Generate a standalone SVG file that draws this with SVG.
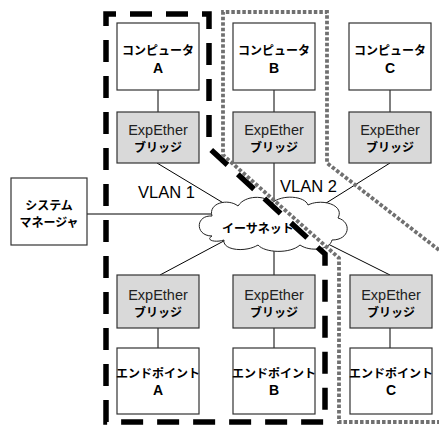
<svg xmlns="http://www.w3.org/2000/svg" width="439" height="426" viewBox="0 0 439 426">
<style>
.box{fill:#fff;stroke:#333;stroke-width:1.2}
.br{fill:#d9d9d9;stroke:#333;stroke-width:1.2}
.jp{font-family:"Liberation Sans","Noto Sans CJK JP",sans-serif;font-weight:bold;font-size:12px;fill:#000;text-anchor:middle}
.lr{font-family:"Liberation Sans",sans-serif;font-weight:bold;font-size:14px;fill:#000;text-anchor:middle}
.lt{font-family:"Liberation Sans","Noto Sans CJK JP",sans-serif;font-size:14.5px;fill:#222;text-anchor:middle}
.vl{font-family:"Liberation Sans",sans-serif;font-size:16.5px;fill:#000}
.ln{stroke:#000;stroke-width:1;fill:none}
</style>
<rect width="439" height="426" fill="#fff"/>
<g id="connectors">
<line class="ln" x1="158" y1="90" x2="158" y2="112"/>
<line class="ln" x1="274" y1="90" x2="274" y2="112"/>
<line class="ln" x1="390" y1="90" x2="390" y2="112"/>
<line class="ln" x1="157" y1="163" x2="235" y2="210"/>
<line class="ln" x1="274" y1="163" x2="274" y2="210"/>
<line class="ln" x1="390" y1="163" x2="315" y2="210"/>
<line class="ln" x1="87" y1="214" x2="220" y2="214"/>
<line class="ln" x1="160" y1="275" x2="235" y2="235"/>
<line class="ln" x1="274" y1="235" x2="274" y2="275"/>
<line class="ln" x1="390" y1="275" x2="310" y2="235"/>
<line class="ln" x1="158" y1="328" x2="158" y2="348"/>
<line class="ln" x1="274" y1="328" x2="274" y2="348"/>
<line class="ln" x1="390" y1="328" x2="390" y2="348"/>
</g>
<g id="ethernet">
<path d="M212,236 C195,236 195,215 212,216 C208,203 228,198 238,206 C245,195 265,195 272,203 C282,194 305,196 308,205 C322,198 345,205 338,218 C352,222 350,240 332,240 C330,250 310,252 300,245 C290,254 265,253 258,245 C245,253 222,250 224,240 C215,243 205,240 212,236 Z" fill="#fff" stroke="#222" stroke-width="1"/>
<text class="jp" x="258" y="233">イーサネット</text>
</g>
<g id="compA"><rect class="box" x="117" y="23" width="82" height="67"/><text class="jp" x="158" y="55">コンピュータ</text><text class="lr" x="158" y="73">A</text></g>
<g id="compB"><rect class="box" x="233" y="23" width="82" height="67"/><text class="jp" x="274" y="55">コンピュータ</text><text class="lr" x="274" y="73">B</text></g>
<g id="compC"><rect class="box" x="349" y="23" width="82" height="67"/><text class="jp" x="390" y="55">コンピュータ</text><text class="lr" x="390" y="73">C</text></g>
<g id="bridgeA1"><rect class="br" x="117" y="112" width="82" height="51"/><text class="lt" x="158" y="135">ExpEther</text><text class="jp" x="158" y="152">ブリッジ</text></g>
<g id="bridgeB1"><rect class="br" x="233" y="112" width="82" height="51"/><text class="lt" x="274" y="135">ExpEther</text><text class="jp" x="274" y="152">ブリッジ</text></g>
<g id="bridgeC1"><rect class="br" x="349" y="112" width="82" height="51"/><text class="lt" x="390" y="135">ExpEther</text><text class="jp" x="390" y="152">ブリッジ</text></g>
<g id="sysman"><rect class="box" x="11" y="178" width="76" height="67"/><text class="jp" x="49" y="210">システム</text><text class="jp" x="49" y="227">マネージャ</text></g>
<g id="bridgeA2"><rect class="br" x="117" y="275" width="82" height="53"/><text class="lt" x="158" y="300">ExpEther</text><text class="jp" x="158" y="317">ブリッジ</text></g>
<g id="bridgeB2"><rect class="br" x="233" y="275" width="82" height="53"/><text class="lt" x="274" y="300">ExpEther</text><text class="jp" x="274" y="317">ブリッジ</text></g>
<g id="bridgeC2"><rect class="br" x="350" y="275" width="82" height="53"/><text class="lt" x="391" y="300">ExpEther</text><text class="jp" x="391" y="317">ブリッジ</text></g>
<g id="endA"><rect class="box" x="117" y="348" width="82" height="66"/><text class="jp" x="158" y="378">エンドポイント</text><text class="lr" x="158" y="395">A</text></g>
<g id="endB"><rect class="box" x="233" y="348" width="82" height="66"/><text class="jp" x="274" y="378">エンドポイント</text><text class="lr" x="274" y="395">B</text></g>
<g id="endC"><rect class="box" x="350" y="348" width="82" height="66"/><text class="jp" x="391" y="378">エンドポイント</text><text class="lr" x="391" y="395">C</text></g>
<g id="vlan1">
<path d="M106,422 V14 H209 V148 L325,254 V422 Z" fill="none" stroke="#000" stroke-width="5.5" stroke-dasharray="22 14"/>
<text class="vl" x="138" y="198">VLAN 1</text>
</g>
<g id="vlan2">
<path d="M439,250 L327,163 V12 H223 V155 L339,258 V422 H439" fill="none" stroke="#707070" stroke-width="3.8" stroke-dasharray="3.5 2"/>
<text class="vl" x="280" y="192">VLAN 2</text>
</g>
</svg>
